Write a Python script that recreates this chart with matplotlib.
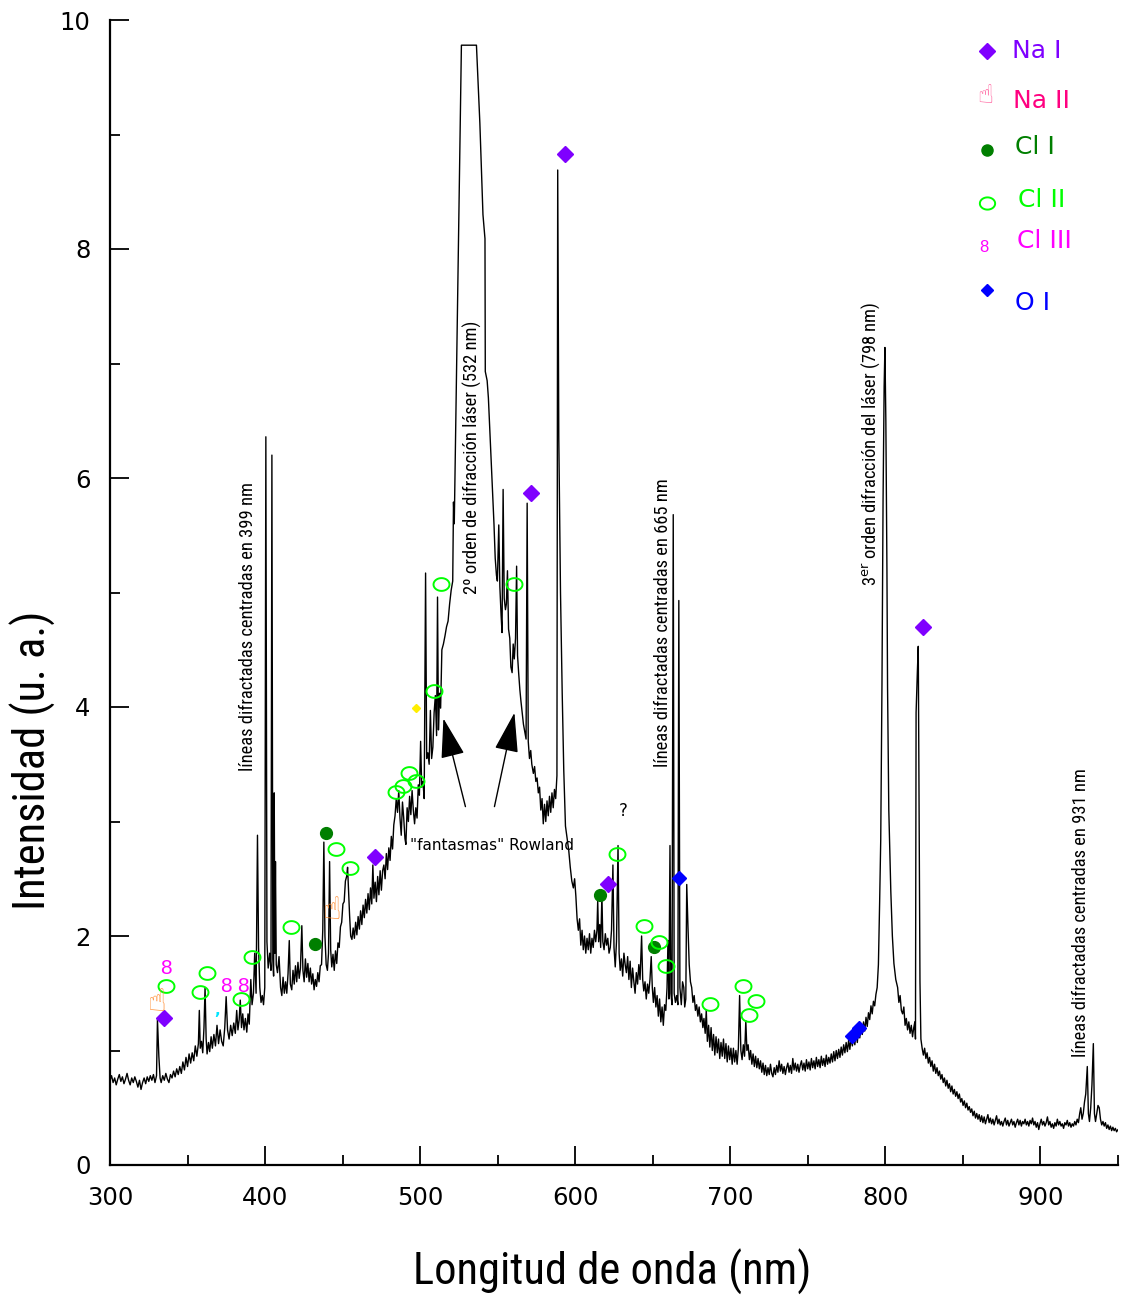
import numpy as np
import matplotlib
matplotlib.use("Agg")
import matplotlib.pyplot as plt
from matplotlib import font_manager as fm
from matplotlib.path import Path

# ---------------- DATA ----------------
# spectrum (wavelength nm, intensity a.u.)
spec_uv = [
    (300.0, 0.74), (301.0, 0.78), (302.0, 0.72), (303.0, 0.76), (304.0, 0.70), (305.0, 0.75),
    (306.0, 0.79), (307.0, 0.73), (308.0, 0.77), (309.0, 0.71), (310.0, 0.75), (311.0, 0.80),
    (312.0, 0.74), (313.0, 0.70), (314.0, 0.76), (315.0, 0.72), (316.0, 0.77), (317.0, 0.73),
    (318.0, 0.68), (319.0, 0.74), (320.0, 0.66), (321.0, 0.72), (322.0, 0.76), (323.0, 0.71),
    (324.0, 0.77), (325.0, 0.73), (326.0, 0.78), (327.0, 0.74), (328.0, 0.79), (329.0, 0.72),
    (330.0, 0.78), (330.6, 1.27), (331.5, 0.95), (332.3, 0.76), (333.0, 0.72), (334.0, 0.78),
    (335.0, 0.74), (336.0, 0.80), (337.0, 0.75), (338.0, 0.72), (339.0, 0.79), (340.0, 0.76),
    (341.0, 0.82), (342.0, 0.77), (343.0, 0.84), (344.0, 0.79), (345.0, 0.86), (346.0, 0.80),
    (347.0, 0.90), (348.0, 0.83), (349.0, 0.94), (350.0, 0.86), (351.0, 0.97), (352.0, 0.89),
    (353.0, 0.98), (354.0, 0.91), (355.0, 1.04), (356.0, 0.95), (357.0, 1.06), (357.6, 1.35),
    (358.2, 1.02), (359.0, 1.08), (359.8, 0.98), (360.6, 1.20), (361.3, 1.55), (362.0, 1.10),
    (362.6, 0.97), (363.5, 1.07), (364.3, 0.99), (365.2, 1.12), (366.0, 1.02), (367.0, 1.14),
    (368.0, 1.04), (369.0, 1.22), (370.0, 1.06), (371.0, 1.18), (372.0, 1.08), (373.0, 1.04),
    (374.0, 1.20), (374.9, 1.47), (375.8, 1.18), (376.8, 1.10), (377.8, 1.22), (378.8, 1.13),
    (379.8, 1.24), (380.8, 1.15), (381.7, 1.35), (382.5, 1.18), (383.3, 1.27), (384.0, 1.44),
    (384.8, 1.20), (385.6, 1.32), (386.4, 1.18), (387.3, 1.28), (388.2, 1.16), (389.0, 1.32),
    (389.8, 1.23), (390.8, 1.62), (391.6, 1.40), (392.5, 1.50), (393.3, 1.85), (394.2, 1.50),
]
spec_399 = [
    (395.1, 2.88), (395.8, 1.90), (396.6, 1.55), (397.4, 1.42), (398.2, 1.48), (399.0, 1.40),
    (399.8, 1.55), (400.5, 6.36), (401.2, 1.95), (402.0, 1.72), (403.0, 1.85), (403.8, 1.70),
    (404.4, 6.20), (405.0, 1.80), (405.5, 1.65), (405.9, 3.25), (406.3, 1.85), (406.7, 2.65),
    (407.2, 1.75), (408.0, 1.68), (409.0, 1.82), (410.0, 1.55), (410.8, 1.48), (411.6, 1.64),
    (412.4, 1.50), (413.2, 1.60), (414.0, 1.50), (414.8, 1.67), (415.6, 1.96), (416.3, 1.58),
    (417.2, 1.53), (418.0, 1.70), (418.8, 1.58), (419.6, 1.74), (420.4, 1.60), (421.2, 1.77),
    (422.0, 1.63), (422.8, 1.72), (423.7, 2.09), (424.4, 1.70), (425.2, 1.60), (426.0, 1.80),
    (426.8, 1.64), (427.6, 1.76), (428.4, 1.60), (429.2, 1.72), (430.0, 1.58), (430.8, 1.67),
    (431.6, 1.53), (432.4, 1.62), (433.2, 1.56), (434.0, 1.68), (434.8, 1.60), (435.6, 1.74),
    (436.4, 1.75), (437.2, 2.05), (437.9, 2.82), (438.6, 2.00), (439.4, 1.75), (440.2, 1.70),
    (440.9, 1.85), (441.6, 2.65), (442.3, 1.88), (443.0, 1.73), (443.8, 1.84), (444.6, 1.70),
    (445.4, 1.87), (446.2, 1.76), (447.0, 1.94), (447.8, 1.90), (448.6, 2.08), (449.4, 2.12),
    (450.2, 2.28), (451.0, 2.30), (451.8, 2.48), (452.6, 2.52), (453.2, 2.60), (453.8, 2.40),
    (454.5, 2.18), (455.2, 2.00), (456.0, 1.97), (456.8, 2.07), (457.6, 1.98), (458.4, 2.12),
    (459.2, 2.01), (460.0, 2.17), (460.8, 2.06), (461.6, 2.22), (462.4, 2.10), (463.2, 2.27),
    (464.0, 2.16), (464.8, 2.32), (465.6, 2.20), (466.4, 2.37), (467.2, 2.23), (468.0, 2.42),
    (468.8, 2.28), (469.5, 2.62), (470.2, 2.33), (471.0, 2.47), (471.8, 2.30), (472.6, 2.52),
    (473.4, 2.36), (474.2, 2.57), (475.0, 2.40), (475.8, 2.57), (476.6, 2.62), (477.4, 2.50),
    (478.2, 2.72), (479.0, 2.58), (479.8, 2.77), (480.6, 2.66), (481.4, 2.87), (482.2, 2.76),
    (483.0, 2.97), (483.8, 3.05), (484.6, 3.20), (485.4, 3.08), (486.2, 3.27), (487.0, 3.03),
    (487.8, 2.88), (488.6, 3.17), (489.4, 3.03), (490.2, 2.85), (490.8, 2.80), (491.6, 3.12),
    (492.4, 3.00), (493.2, 3.22), (494.0, 3.06), (494.8, 3.27), (495.6, 3.10), (496.4, 2.98),
    (497.2, 3.12), (498.0, 3.03), (498.8, 3.32), (499.5, 3.23),
]
spec_laser = [
    (500.3, 3.70), (501.0, 3.30), (501.8, 3.35), (502.6, 3.20), (503.5, 5.17), (504.2, 3.55),
    (505.0, 3.60), (505.8, 3.50), (506.6, 3.97), (507.4, 3.55), (508.2, 3.65), (509.0, 3.95),
    (509.8, 4.10), (510.6, 3.75), (511.2, 4.96), (511.8, 3.80), (512.5, 4.12), (513.2, 3.99),
    (514.0, 4.50), (515.0, 4.55), (516.0, 4.62), (517.0, 4.70), (518.0, 4.75), (519.0, 4.90),
    (520.0, 5.02), (521.0, 5.10), (521.5, 5.79), (522.0, 5.60), (526.6, 9.78), (536.3, 9.78),
    (538.5, 9.10), (540.5, 8.30), (541.8, 8.09), (542.0, 6.93), (543.2, 6.85), (544.0, 6.70),
    (545.0, 6.40), (546.0, 6.10), (546.8, 5.85), (547.6, 5.60), (548.4, 5.30), (549.2, 5.15),
    (549.8, 5.10), (550.7, 5.59), (551.4, 5.05), (552.2, 4.80), (552.8, 4.65), (553.5, 5.90),
    (554.2, 4.95), (555.0, 4.85), (555.6, 4.90), (556.3, 5.19), (557.0, 4.68), (557.8, 4.60),
    (558.5, 4.35), (559.3, 4.30), (560.0, 4.55), (560.7, 4.42), (561.5, 4.60), (562.2, 5.23),
    (562.8, 4.45), (563.5, 4.30), (564.3, 4.15), (565.0, 4.05), (565.8, 3.95), (566.6, 3.85),
    (567.5, 3.78), (568.3, 3.72), (569.0, 5.78), (569.7, 3.70), (570.5, 3.55), (571.3, 3.62),
    (572.0, 3.50), (573.0, 3.42), (573.8, 3.48), (574.6, 3.35), (575.4, 3.38), (576.2, 3.25),
    (577.0, 3.30), (577.8, 3.10), (578.6, 3.20), (579.4, 2.98), (580.2, 3.15), (581.0, 3.00),
    (581.8, 3.18), (582.6, 3.05), (583.4, 3.22), (584.2, 3.08), (585.0, 3.25), (585.8, 3.12),
    (586.6, 3.28), (587.4, 3.20), (588.2, 3.40), (588.7, 8.69), (589.4, 6.35), (590.5, 5.00),
    (591.6, 4.12), (592.6, 3.45), (593.7, 2.96), (594.8, 2.85), (595.8, 2.75), (596.8, 2.60),
    (597.8, 2.48), (598.8, 2.42), (599.6, 2.50), (600.4, 2.35), (601.2, 2.15), (602.0, 2.05),
    (602.8, 2.15), (603.6, 1.92), (604.4, 2.05), (605.2, 1.88), (606.0, 2.00), (606.8, 1.85),
    (607.6, 1.98), (608.4, 1.88), (609.2, 2.02), (610.0, 1.85), (610.8, 1.98), (611.6, 1.90),
    (612.4, 2.05), (613.2, 1.95), (614.0, 2.05), (614.5, 2.31), (615.1, 1.95), (615.8, 2.10),
    (616.4, 1.90), (617.2, 2.36), (617.8, 1.95), (618.6, 1.88), (619.4, 2.02), (620.2, 1.92),
    (621.0, 1.98), (621.8, 1.85), (622.6, 1.90), (623.4, 2.05), (624.3, 2.62), (625.0, 1.90),
    (625.8, 1.73), (626.6, 1.95), (627.6, 2.79), (628.3, 1.85), (629.0, 1.70), (629.8, 1.80),
]
spec_665 = [
    (630.6, 1.65), (631.4, 1.85), (632.2, 1.75), (633.0, 1.68), (633.8, 1.82), (634.6, 1.62),
    (635.4, 1.78), (636.2, 1.55), (637.0, 1.72), (637.8, 1.60), (638.6, 1.50), (639.4, 1.68),
    (640.2, 1.58), (641.0, 1.75), (641.8, 1.62), (642.8, 2.00), (643.5, 1.62), (644.2, 1.52),
    (645.0, 1.60), (645.8, 1.45), (646.6, 1.58), (647.4, 1.50), (648.2, 1.62), (649.0, 1.82),
    (649.7, 1.55), (650.4, 1.42), (651.2, 1.55), (652.0, 1.38), (652.8, 1.48), (653.6, 1.30),
    (654.4, 1.45), (655.2, 1.25), (656.0, 1.38), (656.8, 1.22), (657.6, 1.40), (658.4, 1.35),
    (659.2, 1.55), (659.8, 1.96), (660.4, 1.45), (661.1, 2.79), (661.7, 1.50), (662.4, 1.40),
    (663.2, 5.68), (663.8, 1.50), (664.6, 1.42), (665.4, 1.48), (666.2, 1.40), (666.8, 4.93),
    (667.5, 1.55), (668.4, 1.40), (669.2, 1.60), (670.0, 1.55), (670.6, 1.38), (671.3, 1.45),
    (671.9, 2.45), (672.7, 2.08), (673.5, 1.75), (674.3, 1.60), (675.1, 1.55), (675.9, 1.42),
    (676.7, 1.48), (677.5, 1.35), (678.3, 1.40), (679.1, 1.30), (679.9, 1.38), (680.7, 1.25),
    (681.5, 1.32), (682.3, 1.20), (683.0, 1.28), (683.8, 1.15), (684.5, 1.35), (685.2, 1.08),
    (686.0, 1.22), (686.8, 1.03), (687.6, 1.20), (688.4, 1.00), (689.2, 1.14), (690.0, 0.96),
    (690.8, 1.12), (691.6, 0.98), (692.4, 1.10), (693.2, 0.93), (694.0, 1.07), (694.8, 0.95),
    (695.6, 1.10), (696.4, 0.93), (697.2, 1.06), (698.0, 0.90), (698.8, 1.04), (699.6, 0.92),
    (700.4, 1.02), (701.2, 0.88), (702.0, 1.02), (702.8, 0.90), (703.6, 1.00), (704.4, 0.88),
    (705.2, 1.02), (706.0, 1.48), (706.8, 1.00), (707.6, 0.92), (708.4, 1.05), (709.2, 0.95),
    (710.0, 1.26), (710.7, 1.00), (711.5, 1.05), (712.3, 0.92), (713.1, 1.00), (713.9, 0.88),
    (714.7, 0.97), (715.5, 0.86), (716.3, 0.95), (717.1, 0.85), (717.9, 0.93),
]
spec_ir = [
    (718.7, 0.84), (719.5, 0.91), (720.3, 0.81), (721.1, 0.89), (721.9, 0.79), (722.7, 0.87),
    (723.5, 0.78), (724.3, 0.85), (725.1, 0.79), (725.9, 0.88), (726.7, 0.80), (727.5, 0.77),
    (728.3, 0.85), (729.1, 0.79), (729.9, 0.87), (730.7, 0.81), (731.5, 0.91), (732.3, 0.82),
    (733.1, 0.88), (733.9, 0.80), (734.7, 0.86), (735.5, 0.79), (736.3, 0.85), (737.1, 0.89),
    (737.9, 0.81), (738.7, 0.87), (739.5, 0.80), (740.3, 0.93), (741.1, 0.83), (741.9, 0.89),
    (742.7, 0.82), (743.5, 0.88), (744.3, 0.81), (745.1, 0.87), (745.9, 0.91), (746.7, 0.83),
    (747.5, 0.89), (748.3, 0.82), (749.1, 0.92), (749.9, 0.84), (750.7, 0.90), (751.5, 0.83),
    (752.3, 0.93), (753.1, 0.85), (753.9, 0.91), (754.7, 0.84), (755.5, 0.94), (756.3, 0.86),
    (757.1, 0.92), (757.9, 0.85), (758.7, 0.95), (759.5, 0.87), (760.3, 0.93), (761.1, 0.86),
    (761.9, 0.96), (762.7, 0.88), (763.5, 0.94), (764.3, 0.89), (765.1, 0.97), (765.9, 0.90),
    (766.7, 0.99), (767.5, 0.91), (768.3, 1.00), (769.1, 0.93), (769.9, 1.01), (770.7, 0.94),
    (771.5, 1.03), (772.3, 0.96), (773.1, 1.05), (773.9, 0.98), (774.7, 1.07), (775.5, 0.99),
    (776.3, 1.09), (777.1, 1.01), (777.9, 1.11), (778.7, 1.04), (779.5, 1.13), (780.3, 1.05),
    (781.1, 1.16), (781.9, 1.07), (782.7, 1.19), (783.5, 1.11), (784.3, 1.21), (785.1, 1.14),
    (785.9, 1.25), (786.7, 1.17), (787.5, 1.29), (788.3, 1.21), (789.1, 1.33), (789.9, 1.27),
    (790.7, 1.39), (791.5, 1.32), (792.3, 1.43), (793.1, 1.39), (793.9, 1.49), (794.7, 1.55),
    (795.5, 1.75), (796.3, 2.30), (797.0, 2.84), (797.8, 4.20), (798.5, 5.80), (799.2, 6.80),
    (799.7, 7.14), (800.3, 6.50), (801.0, 5.20), (801.4, 4.17), (802.2, 3.10), (803.5, 2.39),
    (804.5, 2.00), (805.5, 1.76), (806.7, 1.62), (807.9, 1.55), (808.7, 1.42), (809.5, 1.48),
    (810.3, 1.35), (811.1, 1.32), (811.9, 1.38), (812.7, 1.22), (813.5, 1.28), (814.3, 1.18),
    (815.1, 1.25), (815.9, 1.15), (816.7, 1.22), (817.5, 1.12), (818.3, 1.20), (819.0, 1.25),
    (819.4, 1.10), (819.8, 3.95), (820.6, 4.30), (821.2, 4.53), (821.8, 3.00), (822.3, 1.60),
    (822.9, 1.10), (823.7, 1.02), (824.5, 0.96), (825.3, 1.02), (826.1, 0.93), (826.9, 0.98),
    (827.7, 0.89), (828.5, 0.94), (829.3, 0.86), (830.1, 0.91), (830.9, 0.82), (831.7, 0.88),
    (832.5, 0.80), (833.3, 0.85), (834.1, 0.78), (834.9, 0.82), (835.7, 0.75), (836.5, 0.79),
    (837.3, 0.72), (838.1, 0.76), (838.9, 0.69), (839.7, 0.74), (840.5, 0.67), (841.3, 0.71),
    (842.1, 0.64), (842.9, 0.69), (843.7, 0.62), (844.5, 0.66), (845.3, 0.60), (846.1, 0.64),
    (846.9, 0.58), (847.7, 0.62), (848.5, 0.55), (849.3, 0.58), (850.1, 0.52), (850.9, 0.56),
    (851.7, 0.50), (852.5, 0.54), (853.3, 0.48), (854.1, 0.51), (854.9, 0.46), (855.7, 0.49),
    (856.5, 0.43), (857.3, 0.47), (858.1, 0.41), (858.9, 0.45), (859.7, 0.40), (860.5, 0.44),
    (861.3, 0.38), (862.1, 0.43), (862.9, 0.37), (863.7, 0.42), (864.5, 0.36), (865.3, 0.40),
    (866.1, 0.44), (866.9, 0.37), (867.7, 0.41), (868.5, 0.36), (869.3, 0.40), (870.1, 0.35),
    (870.9, 0.39), (871.7, 0.43), (872.5, 0.36), (873.3, 0.40), (874.1, 0.35), (874.9, 0.38),
    (875.7, 0.34), (876.5, 0.38), (877.3, 0.41), (878.1, 0.35), (878.9, 0.39), (879.7, 0.34),
    (880.5, 0.37), (881.3, 0.40), (882.1, 0.35), (882.9, 0.38), (883.7, 0.33), (884.5, 0.37),
    (885.3, 0.40), (886.1, 0.35), (886.9, 0.39), (887.7, 0.34), (888.5, 0.38), (889.3, 0.36),
    (890.1, 0.40), (890.9, 0.35), (891.7, 0.38), (892.5, 0.34), (893.3, 0.39), (894.1, 0.36),
    (894.9, 0.41), (895.7, 0.35), (896.5, 0.38), (897.3, 0.33), (898.1, 0.37), (898.9, 0.31),
    (899.7, 0.36), (900.5, 0.40), (901.3, 0.35), (902.1, 0.38), (902.9, 0.34), (903.7, 0.37),
    (904.5, 0.42), (905.3, 0.35), (906.1, 0.38), (906.9, 0.33), (907.7, 0.36), (908.5, 0.32),
    (909.3, 0.37), (910.1, 0.34), (910.9, 0.40), (911.7, 0.35), (912.5, 0.38), (913.3, 0.34),
    (914.1, 0.36), (914.9, 0.32), (915.7, 0.37), (916.5, 0.35), (917.3, 0.39), (918.1, 0.34),
    (918.9, 0.37), (919.7, 0.33), (920.5, 0.36), (921.3, 0.34), (922.1, 0.38), (922.9, 0.35),
    (923.7, 0.40), (924.5, 0.37), (925.3, 0.45), (926.0, 0.50), (926.8, 0.40), (927.6, 0.45),
    (928.4, 0.55), (929.2, 0.62), (930.2, 0.86), (930.9, 0.45), (931.6, 0.38), (932.4, 0.50),
    (933.2, 0.70), (934.1, 1.06), (934.8, 0.45), (935.5, 0.38), (936.3, 0.45), (937.1, 0.52),
    (937.9, 0.50), (938.7, 0.40), (939.5, 0.35), (940.3, 0.38), (941.1, 0.34), (941.9, 0.37),
    (942.7, 0.32), (943.5, 0.35), (944.3, 0.31), (945.1, 0.34), (945.9, 0.30), (946.7, 0.33),
    (947.5, 0.30), (948.3, 0.32), (949.1, 0.29), (950.0, 0.31), (951.0, 0.30),
]

# identified lines (wavelength nm, intensity) per species
na1_wl = [334.9, 471.1, 571.8, 593.7, 620.9, 824.2]
na1_int = [1.28, 2.69, 5.87, 8.83, 2.45, 4.70]
na2_wl = [330.3, 443.3]
na2_int = [1.42, 2.22]
cl1_wl = [432.3, 439.4, 615.7, 650.6]
cl1_int = [1.93, 2.90, 2.36, 1.90]
cl2_wl = [336.2, 358.1, 362.6, 384.6, 391.7, 416.9, 445.9, 454.9, 484.6, 489.2, 493.0,
          497.5, 509.2, 513.7, 560.8, 626.7, 644.1, 653.8, 658.3, 686.7, 708.0, 711.9, 716.4]
cl2_int = [1.56, 1.51, 1.68, 1.45, 1.82, 2.08, 2.76, 2.59, 3.26, 3.31, 3.42,
           3.35, 4.14, 5.07, 5.07, 2.72, 2.09, 1.95, 1.74, 1.41, 1.56, 1.31, 1.43]
cl3_wl = [336.2, 374.9, 385.9]
cl3_int = [1.72, 1.56, 1.56]
o1_wl = [666.7, 778.4, 782.9]
o1_int = [2.51, 1.13, 1.20]
yellow_wl = [497.5]
yellow_int = [3.99]
cyan_wl = [369.0]
cyan_int = [1.35]

legend_labels = ["Na I", "Na II", "Cl I", "Cl II", "Cl III", "O I"]

x_ticks = [300, 400, 500, 600, 700, 800, 900]
y_ticks = [0, 2, 4, 6, 8, 10]

# ---------------- STYLE ----------------
C_NA1 = "#7F00FF"
C_NA2_TXT = "#FF0080"
C_NA2_MK = "#FF8C30"
C_NA2_LEG = "#FF5C9A"
C_CL1 = "#007F00"
C_CL2 = "#00FF00"
C_CL3 = "#FF00FF"
C_O1 = "#0000FF"


def pick(cands, default="DejaVu Sans"):
    for c in cands:
        try:
            fm.findfont(fm.FontProperties(family=c), fallback_to_default=False)
            return c
        except Exception:
            pass
    return default


NARROW = pick(["Liberation Sans Narrow", "Roboto Condensed", "Open Sans Condensed"])
ARIAL = pick(["Liberation Sans", "Arial"])

fig = plt.figure(figsize=(11.25, 12.98), dpi=100)
ax = fig.add_axes([110 / 1125, 1 - 1165 / 1298, 1008 / 1125, 1145 / 1298])

spectrum = spec_uv + spec_399 + spec_laser + spec_665 + spec_ir
wl = [p[0] for p in spectrum]
inten = [p[1] for p in spectrum]
ax.plot(wl, inten, color="black", lw=1.0, zorder=3)

# ellipse marker for Cl II
t = np.linspace(0, 2 * np.pi, 60)
ell = Path(np.column_stack([np.cos(t), 0.8 * np.sin(t)]), closed=True)

ax.plot(na1_wl, na1_int, ls="none", marker="D", ms=8.5, mfc=C_NA1, mec=C_NA1, zorder=5)
ax.plot(cl1_wl, cl1_int, ls="none", marker="o", ms=8.5, mfc=C_CL1, mec=C_CL1, zorder=5)
ax.plot(cl2_wl, cl2_int, ls="none", marker=ell, ms=11.5, mfc="none", mec=C_CL2, mew=1.4, zorder=5)
ax.plot(o1_wl, o1_int, ls="none", marker="D", ms=7, mfc=C_O1, mec=C_O1, zorder=5)
ax.plot(yellow_wl, yellow_int, ls="none", marker="D", ms=4.5, mfc="#FFEE00", mec="#FFEE00", zorder=5)
for x, y in zip(na2_wl, na2_int):
    ax.text(x, y, "\u261D", color=C_NA2_MK, fontsize=22, family="DejaVu Sans",
            ha="center", va="center", zorder=5)
for x, y in zip(cl3_wl, cl3_int):
    ax.text(x, y, "8", color=C_CL3, fontsize=15, family=ARIAL, ha="center", va="center", zorder=5)
for x, y in zip(cyan_wl, cyan_int):
    ax.text(x, y, ",", color="#00E5FF", fontsize=11, fontweight="bold", ha="center", va="center", zorder=5)

# axes styling
ax.set_xlim(300, 950)
ax.set_ylim(0, 10)
ax.set_xticks(x_ticks)
ax.set_xticks([350, 450, 550, 650, 750, 850, 950], minor=True)
ax.set_yticks(y_ticks)
ax.set_yticks([1, 3, 5, 7, 9], minor=True)
ax.set_xticklabels([str(v) for v in x_ticks])
ax.set_yticklabels([str(v) for v in y_ticks])
for s in ["top", "right"]:
    ax.spines[s].set_visible(False)
for s in ["left", "bottom"]:
    ax.spines[s].set_linewidth(1.6)
ax.tick_params(which="major", direction="in", length=14, width=1.3, labelsize=17.5, pad=14)
ax.tick_params(which="minor", direction="in", length=7, width=1.3)
ax.tick_params(axis="x", which="major", pad=15)
for lab in ax.get_xticklabels() + ax.get_yticklabels():
    lab.set_family("DejaVu Sans")

fig.text(33 / 1125, 1 - 760 / 1298, "Intensidad (u. a.)", rotation=90, ha="center", va="center",
         fontsize=32, family=NARROW)
fig.text(612 / 1125, 1 - 1272 / 1298, "Longitud de onda (nm)", ha="center", va="center",
         fontsize=32, family=NARROW)

# rotated annotations
ann_fs = 13.3
ax.text(389.1, 3.44, "líneas difractadas centradas en 399 nm", rotation=90, ha="center", va="bottom",
        fontsize=ann_fs, family=NARROW)
ax.text(533.7, 4.99, "2º orden de difracción láser (532 nm)", rotation=90, ha="center", va="bottom",
        fontsize=ann_fs, family=NARROW)
ax.text(656.4, 3.48, "líneas difractadas centradas en 665 nm", rotation=90, ha="center", va="bottom",
        fontsize=ann_fs, family=NARROW)
ax.text(790.6, 5.06, "3$^{\\mathrm{er}}$ orden difracción del láser (798 nm)", rotation=90, ha="center",
        va="bottom", fontsize=ann_fs, family=NARROW)
ax.text(926.2, 0.94, "líneas difractadas centradas en 931 nm", rotation=90, ha="center", va="bottom",
        fontsize=ann_fs, family=NARROW)
ax.text(546.6, 2.79, '"fantasmas" Rowland', ha="center", va="center", fontsize=11, family="DejaVu Sans")
ax.text(631.2, 3.09, "?", ha="center", va="center", fontsize=12, family="DejaVu Sans")

arrow_kw = dict(arrowstyle="-|>,head_length=1.4,head_width=0.42", color="black", lw=1.0,
                mutation_scale=18, shrinkA=0, shrinkB=0)
ax.annotate("", xy=(515.0, 3.90), xytext=(529.2, 3.13), arrowprops=arrow_kw)
ax.annotate("", xy=(560.8, 3.95), xytext=(547.9, 3.13), arrowprops=arrow_kw)

# legend (manual)
leg_fs = 18
tr = ax.transAxes


def ax_xy(px, py):
    return ((px - 110) / 1008, (1165 - py) / 1145)


mx, my = ax_xy(987, 51)
ax.plot([mx], [my], transform=tr, marker="D", ms=8.5, color=C_NA1, ls="none", clip_on=False)
ax.text(*ax_xy(1012, 51), legend_labels[0], transform=tr, color=C_NA1, fontsize=leg_fs,
        family="DejaVu Sans", va="center", ha="left")
ax.text(*ax_xy(985, 96), "\u261D", transform=tr, color=C_NA2_LEG, fontsize=19, family="DejaVu Sans",
        ha="center", va="center")
ax.text(*ax_xy(1013, 101), legend_labels[1], transform=tr, color=C_NA2_TXT, fontsize=leg_fs,
        family="DejaVu Sans", va="center", ha="left")
mx, my = ax_xy(987, 150)
ax.plot([mx], [my], transform=tr, marker="o", ms=8, color=C_CL1, ls="none", clip_on=False)
ax.text(*ax_xy(1015, 147), legend_labels[2], transform=tr, color=C_CL1, fontsize=leg_fs,
        family="DejaVu Sans", va="center", ha="left")
mx, my = ax_xy(987, 203)
ax.plot([mx], [my], transform=tr, marker=ell, ms=11, mfc="none", mec=C_CL2, mew=1.4, ls="none",
        clip_on=False)
ax.text(*ax_xy(1018, 200), legend_labels[3], transform=tr, color=C_CL2, fontsize=leg_fs,
        family="DejaVu Sans", va="center", ha="left")
ax.text(*ax_xy(984, 248), "8", transform=tr, color=C_CL3, fontsize=12, family=ARIAL,
        ha="center", va="center")
ax.text(*ax_xy(1017, 241), legend_labels[4], transform=tr, color=C_CL3, fontsize=leg_fs,
        family="DejaVu Sans", va="center", ha="left")
mx, my = ax_xy(987, 290)
ax.plot([mx], [my], transform=tr, marker="D", ms=6.5, color=C_O1, ls="none", clip_on=False)
ax.text(*ax_xy(1015, 303), legend_labels[5], transform=tr, color=C_O1, fontsize=leg_fs,
        family="DejaVu Sans", va="center", ha="left")

fig.savefig("out.png", dpi=100)
